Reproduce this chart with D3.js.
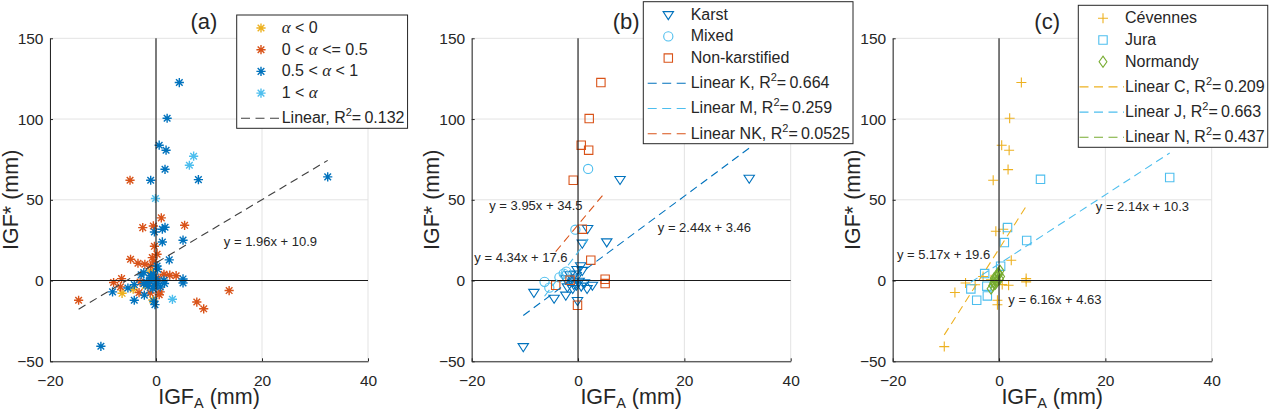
<!DOCTYPE html>
<html><head><meta charset="utf-8">
<script src="https://cdn.jsdelivr.net/npm/d3@7"></script>
<style>
body{margin:0;background:#fff}
svg{display:block}
text{font-family:"Liberation Sans",Arial,sans-serif;fill:#262626}
</style>
</head><body>
<svg id="chart" width="1269" height="412"></svg>
<script>
// ---------------- DATA ----------------
const xTicks = [-20, 0, 20, 40];
const yTicks = [-50, 0, 50, 100, 150];
const panelTitles = ["(a)", "(b)", "(c)"];

// Panel (a): IGF_A vs IGF* by alpha class
const aAlphaNeg = [[-6.4,-7.9],[-4.3,-5.4],[-0.6,-12.0],[-1.0,5.9],[-2.0,-3.0]];
const aAlphaLow = [[-4.9,62.1],[1.0,38.8],[-2.5,32.8],[-0.5,33.8],[5.4,34.2],[-0.3,21.2],[0.2,16.3],[-0.7,14.2],
  [-4.8,13.2],[-3.4,10.7],[-2.1,10.1],[-1.0,9.0],[-0.4,11.5],[1.5,3.9],[2.6,3.3],[3.8,3.0],[-6.5,1.2],[-8.0,-1.2],
  [-6.7,-3.9],[-3.2,-7.5],[-1.1,-7.7],[0.8,-7.0],[0.6,-8.8],[-14.6,-12.2],[7.7,-13.3],[9.0,-17.5],[13.8,-6.2],
  [-1.6,-2.0],[0.4,1.5],[-3.0,-1.0],[-0.8,3.0]];
const aAlphaMid = [[4.4,122.6],[2.1,100.5],[0.6,83.8],[1.9,80.7],[1.7,68.9],[8.0,62.5],[-1.0,62.1],[32.4,64.2],
  [-0.3,30.1],[1.2,31.8],[1.7,33.0],[1.2,23.9],[5.1,25.0],[2.5,12.8],[0.2,9.0],[-8.2,-7.0],[-5.3,-4.6],[-4.1,-2.5],
  [-4.1,-12.2],[-2.2,-9.0],[-0.2,-14.9],[-0.4,-12.8],[-10.4,-40.7],[5.1,1.0],[5.1,-1.5],[1.6,-1.8],[1.5,0.2],
  [-2.3,-2.0],[-1.8,-1.0],[-1.2,0.0],[-0.8,2.0],[-0.5,4.0],[-0.3,-3.0],[0.0,1.0],[0.3,-2.0],[-1.5,-3.5],[-2.3,5.0],
  [0.3,7.0],[-0.6,-5.0],[-1.0,3.0],[0.8,-4.0],[-2.8,3.5],[-0.1,-0.5]];
const aAlphaHigh = [[7.1,77.0],[6.3,71.4],[-0.1,50.8],[3.1,-11.6]];
const aFit = {slope:1.96, intercept:10.9, r2:"0.132"};

// Panel (b): by aquifer type
const bKarst = [[7.9,62.5],[32.2,63.3],[1.8,32.2],[0.8,23.1],[5.4,23.9],[0.5,9.1],[-0.2,6.8],[0.8,6.2],[-1.5,3.5],
  [-0.6,4.0],[-2.3,1.0],[-1.0,-1.0],[0.2,-0.5],[-0.3,-3.0],[1.2,-1.5],[1.7,-5.0],[2.7,-3.0],[-2.0,-4.0],[-1.0,-5.0],
  [-0.8,-2.5],[-8.3,-7.4],[-4.5,-11.0],[-2.3,-9.1],[-0.1,-12.4],[-10.3,-41.0],[0.6,-3.5],[-0.4,1.5]];
const bMixed = [[1.9,69.1],[-0.5,31.5],[-2.7,4.3],[-2.2,5.5],[-6.3,-0.8],[-5.4,-4.4],[-3.5,2.0]];
const bNonKarst = [[4.3,122.6],[2.1,100.3],[0.6,83.8],[2.0,80.7],[-0.9,62.1],[0.8,31.8],[2.4,12.6],[-1.5,0.2],
  [-4.2,-2.9],[5.1,0.8],[5.1,-1.9],[-0.1,-15.3]];
const bFitK = {slope:2.44, intercept:3.46, r2:"0.664"};
const bFitM = {slope:4.34, intercept:17.6, r2:"0.259"};
const bFitNK = {slope:3.95, intercept:34.5, r2:"0.0525"};

// Panel (c): by region
const cCevennes = [[4.2,122.6],[2.0,100.5],[0.5,83.8],[1.9,80.7],[1.7,68.7],[-1.1,62.1],[-0.6,30.5],[0.8,31.8],
  [2.3,12.6],[-4.5,-2.6],[-6.3,-1.5],[-8.3,-7.4],[-0.3,-12.2],[-0.3,-15.0],[1.8,-2.9],[0.6,-2.5],[5.1,1.2],
  [5.1,-0.8],[-10.3,-40.9],[-1.5,0.5],[-3.0,2.5]];
const cJura = [[7.8,62.7],[32.1,63.8],[1.6,32.8],[1.0,23.5],[5.2,24.8],[0.3,8.9],[-2.7,4.3],[-5.3,-5.2],[-2.3,-3.5],
  [-2.2,-9.5],[-4.2,-12.2]];
const cNormandy = [[-1.2,-3.0],[-1.0,-1.5],[-0.8,0.5],[-0.6,2.0],[-0.5,-1.0],[-0.3,3.0],[-0.2,4.5],[0.0,4.0],
  [-0.4,0.0],[0.2,6.0],[-0.9,1.5],[-0.7,-2.0],[0.1,1.0],[-1.5,-5.0],[0.3,2.5]];
const cFitC = {slope:5.17, intercept:19.6, r2:"0.209"};
const cFitJ = {slope:2.14, intercept:10.3, r2:"0.663"};
const cFitN = {slope:6.16, intercept:4.63, r2:"0.437"};

// ---------------- STYLE / LAYOUT ----------------
const C = {blue:"#0072BD", orange:"#D95319", yellow:"#EDB120", lblue:"#4DBEEE", green:"#77AC30", gray:"#404040"};
const plotTop = 38.3, plotBottom = 361.3;
const y = d3.scaleLinear().domain([-50,150]).range([plotBottom, plotTop]);

const symbolPath = {
  star: r => { const d=r*0.72; return `M${-r},0H${r}M0,${-r}V${r}M${-d},${-d}L${d},${d}M${-d},${d}L${d},${-d}`; },
  plus: r => `M${-r},0H${r}M0,${-r}V${r}`,
  tri: r => `M${-r},${-r*0.6}L${r},${-r*0.6}L0,${r*0.95}Z`,
  circle: r => `M${r},0A${r},${r} 0 1,1 ${-r},0A${r},${r} 0 1,1 ${r},0Z`,
  square: r => `M${-r},${-r}H${r}V${r}H${-r}Z`,
  diamond: r => `M0,${-r*1.2}L${r*0.85},0L0,${r*1.2}L${-r*0.85},0Z`
};

const alpha = "\u03B1";
const panels = [
  { left:50, right:368, title:panelTitles[0],
    groups:[
      {label:[["",alpha],[" < 0"]], data:aAlphaNeg, sym:"star", r:4.6, color:C.yellow, sw:1.4},
      {label:[["0 < "],["",alpha],[" <= 0.5"]], data:aAlphaLow, sym:"star", r:4.6, color:C.orange, sw:1.4},
      {label:[["0.5 < "],["",alpha],[" < 1"]], data:aAlphaMid, sym:"star", r:4.6, color:C.blue, sw:1.4},
      {label:[["1 < "],["",alpha]], data:aAlphaHigh, sym:"star", r:4.6, color:C.lblue, sw:1.4}
    ],
    fits:[{name:"Linear", fit:aFit, data:[...aAlphaNeg,...aAlphaLow,...aAlphaMid,...aAlphaHigh], color:C.gray,
           ann:{x:12.8, y:24.2}}],
    legend:{x:236.7, y:15, mx:24.3, tx:45, l0:4.3, l1:43.3}
  },
  { left:471.7, right:790.7, title:panelTitles[1],
    groups:[
      {label:[["Karst"]], data:bKarst, sym:"tri", r:5.2, color:C.blue, sw:1.1},
      {label:[["Mixed"]], data:bMixed, sym:"circle", r:4.6, color:C.lblue, sw:1.1},
      {label:[["Non-karstified"]], data:bNonKarst, sym:"square", r:4.2, color:C.orange, sw:1.1}
    ],
    fits:[
      {name:"Linear K", fit:bFitK, data:bKarst, color:C.blue, ann:{x:15.0, y:32.9}},
      {name:"Linear M", fit:bFitM, data:bMixed, color:C.lblue, ann:{x:-19.5, y:14.3}},
      {name:"Linear NK", fit:bFitNK, data:bNonKarst, color:C.orange, ann:{x:-16.7, y:46.6}}
    ],
    legend:{x:643.3, y:1.7, mx:25, tx:47.4, l0:4.4, l1:45}
  },
  { left:892.7, right:1211.7, title:panelTitles[2],
    groups:[
      {label:[["Cévennes"]], data:cCevennes, sym:"plus", r:5, color:C.yellow, sw:1.1},
      {label:[["Jura"]], data:cJura, sym:"square", r:4.2, color:C.lblue, sw:1.1},
      {label:[["Normandy"]], data:cNormandy, sym:"diamond", r:4.6, color:C.green, sw:1.1}
    ],
    fits:[
      {name:"Linear C", fit:cFitC, data:cCevennes, color:C.yellow, ann:{x:-19.2, y:16.4}},
      {name:"Linear J", fit:cFitJ, data:cJura, color:C.lblue, ann:{x:18.2, y:45.7}},
      {name:"Linear N", fit:cFitN, data:cNormandy, color:C.green, ann:{x:1.75, y:-11.5}}
    ],
    legend:{x:1078.3, y:5.3, mx:24.7, tx:46.7, l0:1.2, l1:45.7}
  }
];

const svg = d3.select("#chart");
svg.append("rect").attr("width",1269).attr("height",412).attr("fill","#fff");

const fmtEq = f => `y = ${f.slope}x + ${f.intercept}`;

panels.forEach(p => {
  const x = d3.scaleLinear().domain([-20,40]).range([p.left, p.right]);
  const g = svg.append("g");

  // grid
  g.append("g").selectAll("line").data(xTicks).join("line")
    .attr("x1", d=>x(d)).attr("x2", d=>x(d)).attr("y1", plotTop).attr("y2", plotBottom)
    .attr("stroke", "#e3e3e3").attr("stroke-width", 1);
  g.append("g").selectAll("line").data(yTicks).join("line")
    .attr("y1", d=>y(d)).attr("y2", d=>y(d)).attr("x1", p.left).attr("x2", p.right)
    .attr("stroke", "#e3e3e3").attr("stroke-width", 1);

  // axes
  const ax = g.append("g").attr("transform", `translate(0,${plotBottom})`)
    .call(d3.axisBottom(x).tickValues(xTicks).tickSizeInner(-3).tickSizeOuter(0).tickPadding(14));
  const ay = g.append("g").attr("transform", `translate(${p.left},0)`)
    .call(d3.axisLeft(y).tickValues(yTicks).tickSizeInner(-3).tickSizeOuter(0).tickPadding(6.5));
  [ax, ay].forEach(a => {
    a.select(".domain").attr("stroke", "#262626");
    a.selectAll(".tick line").attr("stroke", "#262626");
    a.selectAll(".tick text").attr("font-size", 15.5).attr("fill", "#3a3a3a")
      .attr("font-family", '"Liberation Sans",Arial,sans-serif');
  });

  // markers
  p.groups.forEach(grp => {
    g.append("g").selectAll("path").data(grp.data).join("path")
      .attr("transform", d => `translate(${x(d[0])},${y(d[1])})`)
      .attr("d", symbolPath[grp.sym](grp.r))
      .attr("fill", "none").attr("stroke", grp.color).attr("stroke-width", grp.sw);
  });

  // zero lines
  g.append("line").attr("x1", x(0)).attr("x2", x(0)).attr("y1", plotTop).attr("y2", plotBottom)
    .attr("stroke", "#1a1a1a").attr("stroke-width", 1.1);
  g.append("line").attr("x1", p.left).attr("x2", p.right).attr("y1", y(0)).attr("y2", y(0))
    .attr("stroke", "#1a1a1a").attr("stroke-width", 1.1);

  // fits
  p.fits.forEach(f => {
    const ext = d3.extent(f.data, d => d[0]);
    g.append("line")
      .attr("x1", x(ext[0])).attr("y1", y(f.fit.slope*ext[0]+f.fit.intercept))
      .attr("x2", x(ext[1])).attr("y2", y(f.fit.slope*ext[1]+f.fit.intercept))
      .attr("stroke", f.color).attr("stroke-width", 1.1).attr("stroke-dasharray", "8,5");
    g.append("text").attr("x", x(f.ann.x)).attr("y", y(f.ann.y)).attr("dy", "0.35em")
      .attr("font-size", 13).attr("fill", "#262626").text(fmtEq(f.fit));
  });

  // axis labels
  const xl = g.append("text").attr("x", (p.left+p.right)/2).attr("y", 403.5)
    .attr("text-anchor", "middle").attr("font-size", 21.5);
  xl.append("tspan").text("IGF");
  xl.append("tspan").attr("font-size", 14.5).attr("dy", 4).text("A");
  xl.append("tspan").attr("dy", -4).text(" (mm)");
  g.append("text").attr("transform", `translate(${p.left-32.5},${(plotTop+plotBottom)/2}) rotate(-90)`)
    .attr("text-anchor", "middle").attr("font-size", 21.5).text("IGF* (mm)");

  // title
  g.append("text").attr("x", (p.left+p.right)/2 - 5).attr("y", 28.5).attr("text-anchor", "middle")
    .attr("font-size", 22).text(p.title);

  // legend
  const L = p.legend;
  const lg = g.append("g").attr("transform", `translate(${L.x},${L.y})`);
  const box = lg.append("rect").attr("fill", "#fff").attr("stroke", "#262626").attr("stroke-width", 1);
  const nM = p.groups.length;
  const rowY = i => 18 + i*21.7 + (i >= nM ? (i-nM+1)*3.5 : 0);
  let maxW = 0;
  p.groups.forEach((grp, i) => {
    lg.append("path").attr("transform", `translate(${L.mx},${rowY(i)-5})`)
      .attr("d", symbolPath[grp.sym](grp.r)).attr("fill","none").attr("stroke", grp.color).attr("stroke-width", grp.sw);
    const t = lg.append("text").attr("x", L.tx).attr("y", rowY(i)).attr("font-size", 16);
    grp.label.forEach(part => {
      if (part.length === 2) t.append("tspan").attr("font-family", '"Liberation Serif",serif').attr("font-style","italic").attr("font-size", 17).text(part[1]);
      else t.append("tspan").text(part[0]);
    });
    maxW = Math.max(maxW, t.node().getBBox().width);
  });
  p.fits.forEach((f, j) => {
    const i = nM + j, yy = rowY(i);
    lg.append("line").attr("x1", L.l0).attr("x2", L.l1).attr("y1", yy-5).attr("y2", yy-5)
      .attr("stroke", f.color).attr("stroke-width", 1.1).attr("stroke-dasharray", "9,5.5");
    const t = lg.append("text").attr("x", L.tx).attr("y", yy).attr("font-size", 16);
    t.append("tspan").text(f.name + ", R");
    t.append("tspan").attr("font-size", 11).attr("dy", -7).text("2");
    t.append("tspan").attr("dy", 7).text("=\u2009" + f.fit.r2);
    maxW = Math.max(maxW, t.node().getBBox().width);
  });
  box.attr("x", 0).attr("y", 0).attr("width", L.tx + maxW + 3).attr("height", rowY(nM + p.fits.length - 1) + 5);
});
</script>
</body></html>
